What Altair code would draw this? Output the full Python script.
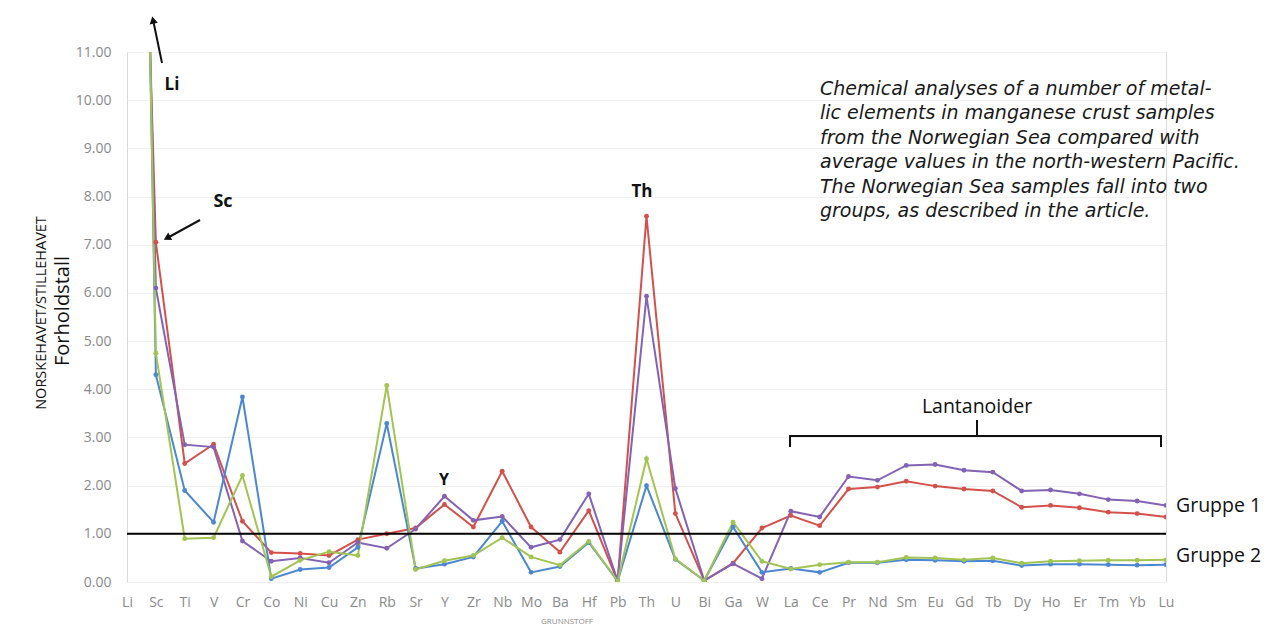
import altair as alt
import pandas as pd

elements = ["Li", "Sc", "Ti", "V", "Cr", "Co", "Ni", "Cu", "Zn", "Rb", "Sr", "Y", "Zr",
            "Nb", "Mo", "Ba", "Hf", "Pb", "Th", "U", "Bi", "Ga", "W", "La", "Ce", "Pr",
            "Nd", "Sm", "Eu", "Gd", "Tb", "Dy", "Ho", "Er", "Tm", "Yb", "Lu"]

# Gruppe 1 (red, purple)
serie_rod = [27.0, 7.05, 2.46, 2.86, 1.26, 0.61, 0.59, 0.55, 0.88, 1.00, 1.12, 1.61, 1.14,
             2.30, 1.14, 0.62, 1.48, 0.02, 7.59, 1.42, 0.03, 0.39, 1.12, 1.38, 1.17, 1.93,
             1.97, 2.09, 1.99, 1.93, 1.89, 1.55, 1.59, 1.54, 1.45, 1.42, 1.35]
serie_lilla = [31.0, 6.10, 2.85, 2.80, 0.85, 0.43, 0.50, 0.40, 0.82, 0.70, 1.10, 1.78, 1.28,
               1.36, 0.72, 0.88, 1.83, 0.02, 5.93, 1.94, 0.03, 0.38, 0.07, 1.47, 1.35, 2.19,
               2.11, 2.42, 2.44, 2.32, 2.28, 1.89, 1.91, 1.83, 1.71, 1.68, 1.59]
# Gruppe 2 (green, blue)
serie_gronn = [36.0, 4.75, 0.90, 0.92, 2.21, 0.11, 0.45, 0.63, 0.55, 4.08, 0.26, 0.44, 0.55,
               0.92, 0.52, 0.35, 0.84, 0.02, 2.56, 0.48, 0.03, 1.24, 0.43, 0.27, 0.36, 0.41,
               0.41, 0.51, 0.50, 0.46, 0.50, 0.39, 0.43, 0.44, 0.45, 0.45, 0.46]
serie_bla = [38.0, 4.30, 1.90, 1.24, 3.84, 0.07, 0.26, 0.30, 0.72, 3.29, 0.28, 0.37, 0.52,
             1.26, 0.20, 0.32, 0.82, 0.02, 2.00, 0.47, 0.03, 1.14, 0.20, 0.28, 0.20, 0.40,
             0.40, 0.46, 0.45, 0.43, 0.44, 0.34, 0.37, 0.37, 0.36, 0.35, 0.36]

series_names = ["Prøve 1", "Prøve 2", "Prøve 3", "Prøve 4"]
series_values = [serie_rod, serie_lilla, serie_bla, serie_gronn]
series_colors = ["#d4504b", "#8462b4", "#4c88d2", "#a2c452"]

reference_level = [1.0]
y_ticks = list(range(0, 12))

caption_lines = [
    "Chemical analyses of a number of metal-",
    "lic elements in manganese crust samples",
    "from the Norwegian Sea compared with",
    "average values in the north-western Pacific.",
    "The Norwegian Sea samples fall into two",
    "groups, as described in the article.",
]

rows = []
for name, vals in zip(series_names, series_values):
    for i, (el, v) in enumerate(zip(elements, vals)):
        rows.append({"element": el, "value": v, "serie": name, "idx": i})
df = pd.DataFrame(rows)

FONT = "Open Sans"

x_enc = alt.X("element:N", sort=elements,
              scale=alt.Scale(type="point", padding=0),
              axis=alt.Axis(title=None, labelAngle=0, domain=False, ticks=False,
                            labelPadding=13, labelColor="#8a8a8a", labelFontSize=14,
                            labelFont=FONT, grid=False))
y_enc = alt.Y("value:Q",
              scale=alt.Scale(domain=[0, 11], nice=False, zero=True),
              axis=alt.Axis(title=None, values=y_ticks, format=".2f", domain=False,
                            ticks=False, labelPadding=16, labelColor="#8a8a8a",
                            labelFontSize=14, labelFont=FONT, grid=True,
                            gridColor="#f0f0f0", gridWidth=1))
color_enc = alt.Color("serie:N", scale=alt.Scale(domain=series_names, range=series_colors),
                      legend=None)

base = alt.Chart(df)
lines = base.mark_line(strokeWidth=2, clip=True).encode(
    x=x_enc, y=y_enc, color=color_enc, order="idx:Q")
points = base.mark_circle(size=24, opacity=1, clip=True).encode(
    x=x_enc, y=y_enc, color=color_enc)

ref = alt.Chart(pd.DataFrame({"ref": reference_level})).mark_rule(
    color="black", strokeWidth=2).encode(y="ref:Q")


def one():
    return pd.DataFrame({"a": [0]})


def seg(x1, y1, x2, y2, w=2):
    return alt.Chart(one()).mark_rule(color="#111111", strokeWidth=w).encode(
        x=alt.value(x1), y=alt.value(y1), x2=alt.value(x2), y2=alt.value(y2))


def label(txt, x, y, size=16, weight="normal", align="center", style="normal",
          color="#111111", angle=0, font=FONT):
    return alt.Chart(one()).mark_text(
        text=txt, fontSize=size, fontWeight=weight, align=align, baseline="middle",
        fontStyle=style, color=color, angle=angle, font=font).encode(
        x=alt.value(x), y=alt.value(y))


def arrowhead(x, y, ang):
    return alt.Chart(one()).mark_point(
        shape="triangle-up", filled=True, size=70, angle=ang, color="#111111",
        opacity=1).encode(x=alt.value(x), y=alt.value(y))


annotations = [
    # Li arrow
    seg(35, 11, 26.5, -30),
    arrowhead(26, -32, 348),
    label("Li", 45, 33, size=17, weight="bold"),
    # Sc arrow
    seg(73, 168, 42, 185),
    arrowhead(40, 186, 242),
    label("Sc", 96, 150, size=18, weight="bold"),
    # Th, Y
    label("Th", 515, 140, size=17, weight="bold"),
    label("Y", 317, 428, size=16, weight="bold"),
    # Lantanoider bracket
    label("Lantanoider", 850, 355, size=19.5),
    seg(663, 384, 1034, 384),
    seg(663, 383, 663, 395),
    seg(1034, 383, 1034, 395),
    seg(850, 368, 850, 384),
    # group labels
    label("Gruppe 1", 1049, 454, size=19.5, align="left"),
    label("Gruppe 2", 1049, 504, size=19.5, align="left"),
    # axis titles
    label("NORSKEHAVET/STILLEHAVET", -85, 261, size=14.5, angle=270),
    label("Forholdstall", -64, 259, size=20, angle=270),
    label("GRUNNSTOFF", 440, 570, size=8, color="#8a8a8a"),
]
for i, line in enumerate(caption_lines):
    annotations.append(label(line, 693, 37 + 24.4 * i, size=19, align="left",
                             style="italic", color="#1a1a1a", font="DejaVu Sans"))

chart = alt.layer(lines, points, ref, *annotations).properties(
    width=1039, height=530,
    autosize=alt.AutoSizeParams(type="none"),
    padding={"left": 119, "top": 44, "right": 97, "bottom": 45},
    background="white",
).configure_view(stroke="#d9d9d9", strokeWidth=1)

chart.save("out.html", embed_options={"renderer": "svg", "actions": False})
